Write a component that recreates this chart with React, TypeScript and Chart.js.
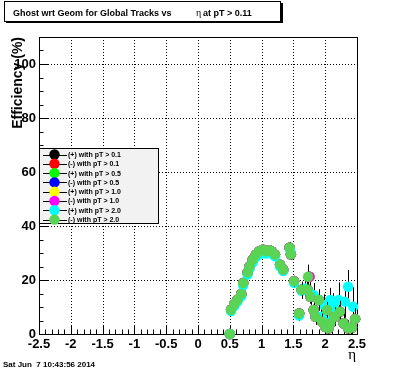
import React, { useEffect, useRef } from "react";
import { Chart, registerables } from "chart.js";

Chart.register(...registerables);

const FONT = "'Liberation Sans', Arial, Helvetica, sans-serif";

// Axis ticks
const xTickValues = [-2.5, -2, -1.5, -1, -0.5, 0, 0.5, 1, 1.5, 2, 2.5];
const xTickLabels = ["-2.5", "-2", "-1.5", "-1", "-0.5", "0", "0.5", "1", "1.5", "2", "2.5"];
const yTickValues = [0, 20, 40, 60, 80, 100];
const yTickLabels = ["0", "20", "40", "60", "80", "100"];

// Series
const seriesLabels = [
  "(+) with pT > 0.1",
  "(-) with pT > 0.1",
  "(+) with pT > 0.5",
  "(-) with pT > 0.5",
  "(+) with pT > 1.0",
  "(-) with pT > 1.0",
  "(+) with pT > 2.0",
  "(-) with pT > 2.0",
];
const seriesColors = ["#000000", "#ff0000", "#00ff00", "#0000ff", "#ffff00", "#ff00ff", "#00ffff", "#59d454"];

// Lower-pT series (hidden underneath the pT > 2.0 markers)
const etaLowPt = [0.5, 0.52, 0.57, 0.62, 0.68, 0.71, 0.78, 0.81, 0.86, 0.91, 0.96, 1.02, 1.07, 1.12, 1.16, 1.21, 1.29, 1.34, 1.44, 1.46, 1.51, 1.59, 1.63, 1.72, 1.75, 1.77, 1.82, 1.85, 1.9, 1.95, 2.0, 2.03, 2.05, 2.08, 2.15, 2.23, 2.29, 2.36, 2.42, 2.47];
const effLowPt = [0, 9, 11, 12.7, 14.8, 18.9, 22.8, 25, 27.5, 29.4, 30.6, 31.2, 30.6, 31, 30.6, 29.4, 25.7, 23.8, 32, 29.5, 19.6, 7.6, 16.4, 16.5, 21.2, 13.8, 8.9, 6.4, 12.6, 4.6, 2.7, 8.9, 2.1, 4, 6.4, 8.3, 4, 2.1, 2.4, 5.6];

// (+) with pT > 2.0
const etaPos20 = [0.5, 0.52, 0.57, 0.62, 0.68, 0.71, 0.78, 0.81, 0.86, 0.91, 0.96, 1.02, 1.07, 1.12, 1.16, 1.21, 1.29, 1.34, 1.45, 1.51, 1.59, 1.63, 1.69, 1.76, 1.82, 1.9, 1.93, 1.98, 2.01, 2.08, 2.13, 2.21, 2.31, 2.36, 2.44];
const effPos20 = [0, 8.5, 10.3, 12, 14, 18, 22, 24.2, 26.5, 28.5, 29.5, 30, 29.8, 30, 29.8, 28.8, 25, 23.3, 31, 19, 6.8, 16, 16.9, 15.2, 14.4, 12.6, 6.4, 10.7, 5, 12.6, 10.1, 12.6, 12, 17.5, 10.1];
const errPos20 = [0, 1, 1, 1, 1, 1, 1, 1, 1, 1, 1, 1, 1, 1, 1, 1, 1.5, 1.5, 2, 2, 2, 3, 3, 4, 4.5, 4, 3, 4, 3, 4.5, 5, 6.5, 6, 6.2, 7.2];

// (-) with pT > 2.0
const etaNeg20 = [0.5, 0.52, 0.57, 0.62, 0.68, 0.71, 0.78, 0.81, 0.86, 0.91, 0.96, 1.02, 1.07, 1.12, 1.16, 1.21, 1.29, 1.34, 1.44, 1.46, 1.51, 1.59, 1.63, 1.72, 1.73, 1.77, 1.82, 1.85, 1.9, 1.95, 2.0, 2.03, 2.05, 2.08, 2.15, 2.23, 2.29, 2.36, 2.42, 2.47];
const effNeg20 = [0, 9, 11, 12.7, 14.8, 18.9, 22.8, 25, 27.5, 29.4, 30.6, 31.2, 30.6, 31, 30.6, 29.4, 25.7, 23.8, 32, 29.5, 19.6, 7.6, 16.4, 16.5, 21.2, 13.8, 8.9, 6.4, 12.6, 4.6, 2.7, 8.9, 2.1, 4, 6.4, 8.3, 4, 2.1, 2.4, 5.6];
const errNeg20 = [0, 1, 1, 1, 1, 1, 1, 1, 1, 1, 1, 1, 1, 1, 1, 1, 1.5, 1.5, 2, 2, 2, 2, 3, 3, 4.5, 3, 3, 3, 3, 3, 2.5, 3, 2, 3, 3.5, 4, 3.5, 3, 3, 4];

const seriesEta = [etaLowPt, etaLowPt, etaLowPt, etaLowPt, etaLowPt, etaLowPt, etaPos20, etaNeg20];
const seriesEff = [effLowPt, effLowPt, effLowPt, effLowPt, effLowPt, effLowPt, effPos20, effNeg20];
const seriesErr: (number[] | null)[] = [null, null, null, null, null, null, errPos20, errNeg20];

const titleMain = "Ghost wrt Geom for Global Tracks vs";
const titleEta = "\u03b7";
const titleRest = "at pT > 0.11";
const yTitle = "Efficiency (%)";
const xTitle = "\u03b7";
const dateText = "Sat Jun  7 10:43:56 2014";

const rootPlugin = {
  id: "rootDecor",
  beforeDraw(chart: any) {
    const ctx = chart.ctx;
    ctx.save();
    ctx.fillStyle = "#ffffff";
    ctx.fillRect(0, 0, chart.width, chart.height);
    ctx.restore();
  },
  beforeDatasetsDraw(chart: any) {
    const ctx = chart.ctx;
    const { left, right, top, bottom } = chart.chartArea;
    const xs = chart.scales.x;
    const ys = chart.scales.y;
    ctx.save();
    // dotted grid
    ctx.strokeStyle = "#000";
    ctx.lineWidth = 1;
    ctx.setLineDash([1, 2]);
    xTickValues.forEach((v) => {
      if (v <= xs.min || v >= xs.max) return;
      const px = Math.round(xs.getPixelForValue(v)) + 0.5;
      ctx.beginPath();
      ctx.moveTo(px, top);
      ctx.lineTo(px, bottom);
      ctx.stroke();
    });
    yTickValues.forEach((v) => {
      if (v <= ys.min || v >= ys.max) return;
      const py = Math.round(ys.getPixelForValue(v)) + 0.5;
      ctx.beginPath();
      ctx.moveTo(left, py);
      ctx.lineTo(right, py);
      ctx.stroke();
    });
    ctx.setLineDash([]);
    // frame
    ctx.strokeRect(Math.round(left) + 0.5, Math.round(top) + 0.5, Math.round(right - left), Math.round(bottom - top));
    // x ticks
    ctx.beginPath();
    for (let k = 0; k <= 50; k++) {
      const v = -2.5 + k * 0.1;
      const px = Math.round(xs.getPixelForValue(v)) + 0.5;
      const len = k % 5 === 0 ? 9 : 4.5;
      ctx.moveTo(px, bottom);
      ctx.lineTo(px, bottom - len);
    }
    // y ticks
    for (let k = 0; k <= 22; k++) {
      const v = k * 5;
      const py = Math.round(ys.getPixelForValue(v)) + 0.5;
      const len = k % 4 === 0 ? 9 : 4.5;
      ctx.moveTo(left, py);
      ctx.lineTo(left + len, py);
    }
    ctx.stroke();
    ctx.restore();
  },
  beforeDatasetDraw(chart: any, args: any) {
    const errs = seriesErr[args.index];
    if (!errs) return;
    const ctx = chart.ctx;
    const xs = chart.scales.x;
    const ys = chart.scales.y;
    const etas = seriesEta[args.index];
    const effs = seriesEff[args.index];
    ctx.save();
    ctx.strokeStyle = "#000";
    ctx.lineWidth = 1;
    ctx.beginPath();
    etas.forEach((e, i) => {
      const er = errs[i] || 0;
      if (er <= 0) return;
      const px = Math.round(xs.getPixelForValue(e)) + 0.5;
      ctx.moveTo(px, ys.getPixelForValue(Math.max(0, effs[i] - er)));
      ctx.lineTo(px, ys.getPixelForValue(effs[i] + er));
    });
    ctx.stroke();
    ctx.restore();
  },
  afterDatasetsDraw(chart: any) {
    const ctx = chart.ctx;
    ctx.save();
    // legend
    const lx = 39.5, ly = 148.5, lw = 119, lh = 75;
    ctx.fillStyle = "#f2f2f2";
    ctx.fillRect(lx, ly, lw, lh);
    ctx.strokeStyle = "#000";
    ctx.lineWidth = 1;
    ctx.strokeRect(lx, ly, lw, lh);
    ctx.font = `bold 7px ${FONT}`;
    ctx.textBaseline = "middle";
    ctx.textAlign = "left";
    seriesLabels.forEach((lab, i) => {
      const cy = 154.5 + i * 9.3;
      ctx.beginPath();
      ctx.moveTo(43, Math.round(cy) + 0.5);
      ctx.lineTo(67, Math.round(cy) + 0.5);
      ctx.strokeStyle = "#000";
      ctx.stroke();
      ctx.beginPath();
      ctx.arc(54.5, cy, 5.2, 0, Math.PI * 2);
      ctx.fillStyle = seriesColors[i];
      ctx.fill();
      ctx.fillStyle = "#000";
      ctx.fillText(lab, 68, cy + 0.5);
    });
    // title box
    ctx.fillStyle = "#000";
    ctx.fillRect(6, 21, 276, 2);
    ctx.fillRect(281, 3, 2, 20);
    ctx.fillStyle = "#fff";
    ctx.fillRect(4.5, 1.5, 276, 20);
    ctx.strokeRect(4.5, 1.5, 276, 20);
    ctx.fillStyle = "#000";
    ctx.textBaseline = "alphabetic";
    ctx.font = `bold 9px ${FONT}`;
    ctx.fillText(titleMain, 13, 16);
    ctx.font = `10px 'Liberation Serif', serif`;
    ctx.fillText(titleEta, 196, 16);
    ctx.font = `bold 9px ${FONT}`;
    ctx.fillText(titleRest, 203, 16);
    // y title
    ctx.save();
    ctx.translate(22, 37);
    ctx.rotate(-Math.PI / 2);
    ctx.font = `bold 14px ${FONT}`;
    ctx.textAlign = "right";
    ctx.fillText(yTitle, 0, 0);
    ctx.restore();
    // x title
    ctx.font = `15px 'Liberation Serif', serif`;
    ctx.textAlign = "right";
    ctx.fillText(xTitle, 356, 359);
    // date
    ctx.textAlign = "left";
    ctx.font = `bold 8px ${FONT}`;
    ctx.fillText(dateText, 3, 367);
    ctx.restore();
  },
};

export default function App() {
  const canvasRef = useRef<HTMLCanvasElement | null>(null);

  useEffect(() => {
    if (!canvasRef.current) return;
    const datasets = seriesLabels.map((label, i) => ({
      label,
      data: seriesEta[i].map((e, k) => ({ x: e, y: seriesEff[i][k] })),
      backgroundColor: seriesColors[i],
      borderColor: seriesColors[i],
      pointRadius: 5.2,
      pointBorderWidth: 0,
      pointStyle: "circle",
      showLine: false,
      order: 7 - i,
      clip: false as any,
    }));
    const chart = new Chart(canvasRef.current, {
      type: "scatter",
      data: { datasets },
      options: {
        animation: false,
        responsive: false,
        maintainAspectRatio: false,
        devicePixelRatio: 1,
        events: [],
        layout: { padding: { top: 37, right: 39, left: 0, bottom: 0 } },
        plugins: {
          legend: { display: false },
          tooltip: { enabled: false },
          title: { display: false },
        },
        scales: {
          x: {
            type: "linear",
            min: -2.5,
            max: 2.5,
            grid: { display: false, drawTicks: false },
            border: { display: false },
            afterBuildTicks: (s: any) => {
              s.ticks = xTickValues.map((v) => ({ value: v }));
            },
            afterFit: (s: any) => {
              s.height = 38;
            },
            ticks: {
              autoSkip: false,
              maxRotation: 0,
              minRotation: 0,
              padding: 3,
              color: "#000",
              font: { family: FONT, weight: "bold", size: 13 },
              callback: (_v: any, i: number) => xTickLabels[i],
            },
          },
          y: {
            type: "linear",
            min: 0,
            max: 110,
            grid: { display: false, drawTicks: false },
            border: { display: false },
            afterBuildTicks: (s: any) => {
              s.ticks = yTickValues.map((v) => ({ value: v }));
            },
            afterFit: (s: any) => {
              s.width = 39;
            },
            ticks: {
              autoSkip: false,
              padding: 3,
              color: "#000",
              font: { family: FONT, weight: "bold", size: 13 },
              callback: (_v: any, i: number) => yTickLabels[i],
            },
          },
        },
      } as any,
      plugins: [rootPlugin as any],
    });
    return () => chart.destroy();
  }, []);

  return (
    <div style={{ position: "absolute", left: 0, top: 0, width: 396, height: 372 }}>
      <canvas ref={canvasRef} width={396} height={372} style={{ width: 396, height: 372, display: "block" }} />
    </div>
  );
}
